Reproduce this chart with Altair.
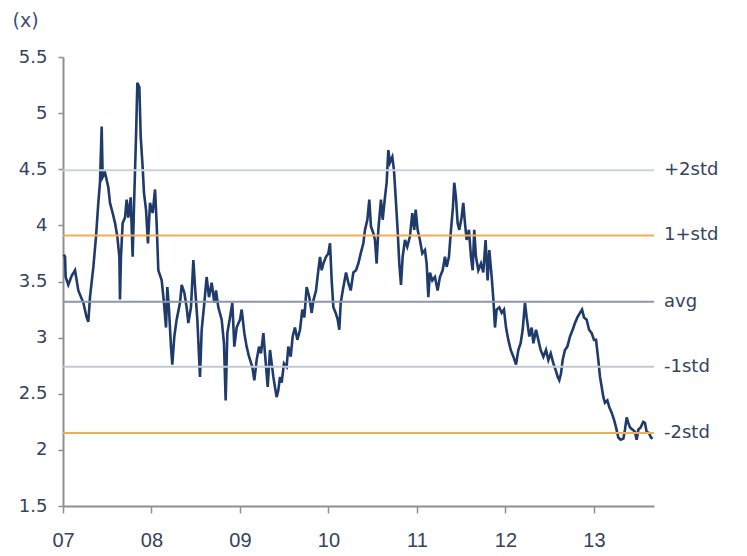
import altair as alt
import pandas as pd

# time in decimal years, multiple values
years = [
    2007.010, 2007.023, 2007.030, 2007.060, 2007.098, 2007.136, 2007.173, 2007.230, 2007.267, 2007.286,
    2007.305, 2007.343, 2007.373, 2007.399, 2007.418, 2007.437, 2007.448, 2007.475, 2007.512, 2007.531,
    2007.561, 2007.588, 2007.614, 2007.637, 2007.644, 2007.655, 2007.674, 2007.701, 2007.719, 2007.738,
    2007.765, 2007.787, 2007.802, 2007.825, 2007.840, 2007.863, 2007.878, 2007.900, 2007.915, 2007.938,
    2007.960, 2007.983, 2008.013, 2008.040, 2008.058, 2008.077, 2008.115, 2008.141, 2008.164, 2008.179,
    2008.198, 2008.220, 2008.235, 2008.258, 2008.284, 2008.322, 2008.341, 2008.371, 2008.397, 2008.416,
    2008.446, 2008.473, 2008.492, 2008.518, 2008.548, 2008.567, 2008.597, 2008.623, 2008.650, 2008.680,
    2008.710, 2008.729, 2008.755, 2008.793, 2008.819, 2008.838, 2008.857, 2008.887, 2008.913, 2008.936,
    2008.962, 2009.000, 2009.019, 2009.049, 2009.075, 2009.102, 2009.139, 2009.162, 2009.188, 2009.215,
    2009.237, 2009.264, 2009.282, 2009.313,
    2009.339, 2009.358, 2009.377, 2009.395, 2009.414, 2009.433, 2009.452, 2009.471, 2009.497, 2009.527,
    2009.546, 2009.573, 2009.595, 2009.621, 2009.648, 2009.678, 2009.704, 2009.727, 2009.753, 2009.783,
    2009.810, 2009.829, 2009.859, 2009.885, 2009.904, 2009.923, 2009.942, 2009.972, 2009.998, 2010.017,
    2010.036, 2010.055, 2010.081, 2010.104, 2010.122, 2010.138, 2010.168, 2010.198, 2010.224, 2010.251,
    2010.281, 2010.311, 2010.337, 2010.364, 2010.394, 2010.412, 2010.439, 2010.461, 2010.480, 2010.507,
    2010.525, 2010.544, 2010.563, 2010.593, 2010.612, 2010.638, 2010.657, 2010.676, 2010.694, 2010.721,
    2010.740, 2010.759, 2010.781, 2010.800, 2010.819, 2010.838, 2010.864, 2010.890, 2010.920, 2010.947,
    2010.969, 2010.985, 2011.007, 2011.033, 2011.060, 2011.090, 2011.109, 2011.128, 2011.146, 2011.173,
    2011.203, 2011.233, 2011.259, 2011.290, 2011.316, 2011.335, 2011.361, 2011.384, 2011.406, 2011.421,
    2011.440, 2011.459, 2011.478, 2011.504, 2011.523, 2011.542, 2011.561, 2011.587, 2011.610, 2011.629,
    2011.647, 2011.666, 2011.693, 2011.723, 2011.749, 2011.775, 2011.798, 2011.817,
    2011.844, 2011.863, 2011.881, 2011.900, 2011.930, 2011.957, 2011.983, 2012.006, 2012.032, 2012.059,
    2012.089, 2012.119, 2012.145, 2012.171, 2012.194, 2012.220, 2012.239, 2012.269, 2012.296, 2012.315,
    2012.345, 2012.371, 2012.397, 2012.428, 2012.458, 2012.484, 2012.511, 2012.541, 2012.567, 2012.590,
    2012.608, 2012.627, 2012.646, 2012.672, 2012.699, 2012.729, 2012.759, 2012.785, 2012.812, 2012.842,
    2012.865, 2012.887, 2012.917, 2012.944, 2012.974, 2013.000, 2013.023, 2013.049, 2013.068, 2013.087,
    2013.106, 2013.124, 2013.151, 2013.173, 2013.200, 2013.226, 2013.249, 2013.275, 2013.301, 2013.332,
    2013.350, 2013.369, 2013.388, 2013.407, 2013.437, 2013.463, 2013.482, 2013.501, 2013.527, 2013.557,
    2013.576, 2013.595, 2013.621, 2013.644, 2013.663,
]
multiple = [
    3.74, 3.72, 3.54, 3.47, 3.55, 3.60, 3.42, 3.31, 3.18, 3.14,
    3.36, 3.63, 3.90, 4.20, 4.38, 4.88, 4.43, 4.47, 4.34, 4.20,
    4.11, 4.02, 3.90, 3.72, 3.34, 3.72, 4.02, 4.07, 4.23, 4.07,
    4.25, 3.72, 4.16, 4.79, 5.27, 5.23, 4.79, 4.52, 4.29, 4.14,
    3.84, 4.20, 4.11, 4.32, 4.02, 3.60, 3.51, 3.31, 3.09, 3.45,
    3.25, 2.92, 2.76, 3.01, 3.16, 3.31, 3.47, 3.40, 3.27, 3.13,
    3.27, 3.69, 3.45, 3.16, 2.65, 3.07, 3.31, 3.54, 3.36, 3.49,
    3.31, 3.42, 3.27, 3.16, 2.95, 2.44, 3.04, 3.18, 3.31, 2.92,
    3.09, 3.16, 3.25, 3.04, 2.92, 2.83, 2.74, 2.62, 2.80, 2.92,
    2.86, 3.04, 2.86, 2.56,
    2.89, 2.77, 2.65, 2.56, 2.47, 2.53, 2.65, 2.60, 2.77, 2.74,
    2.92, 2.83, 3.01, 3.09, 2.98, 3.07, 3.25, 3.18, 3.45, 3.36,
    3.22, 3.33, 3.42, 3.60, 3.72, 3.60, 3.66, 3.72, 3.75, 3.84,
    3.51, 3.27, 3.22, 3.16, 3.07, 3.31, 3.45, 3.58, 3.49, 3.42,
    3.58, 3.60, 3.66, 3.75, 3.84, 3.96, 4.05, 4.23, 3.99, 3.93,
    3.87, 3.66, 3.96, 4.23, 4.05, 4.25, 4.38, 4.67, 4.56, 4.61,
    4.49, 4.25, 3.96, 3.66, 3.47, 3.72, 3.87, 3.81, 3.90, 4.11,
    3.96, 4.14, 3.96, 3.87, 3.75, 3.78, 3.66, 3.36, 3.58, 3.51,
    3.54, 3.42, 3.54, 3.60, 3.72, 3.63, 3.72, 3.96, 4.16, 4.38,
    4.25, 4.02, 3.96, 4.07, 4.20, 4.02, 3.87, 3.96, 3.72, 3.60,
    3.96, 3.72, 3.60, 3.66, 3.58, 3.87, 3.51, 3.78,
    3.54, 3.34, 3.09, 3.25, 3.27, 3.22, 3.25, 3.09, 2.98, 2.89,
    2.83, 2.76, 2.89, 2.95, 3.07, 3.31, 3.18, 3.01, 3.09, 2.95,
    3.07, 2.98, 2.89, 2.83, 2.89, 2.80, 2.86, 2.77, 2.71, 2.65,
    2.62, 2.68, 2.80, 2.89, 2.92, 3.01, 3.07, 3.13, 3.18, 3.22,
    3.25, 3.18, 3.16, 3.07, 3.04, 2.98, 2.98, 2.80, 2.65, 2.56,
    2.47, 2.42, 2.44, 2.38, 2.33, 2.27, 2.20, 2.11, 2.09, 2.10,
    2.18, 2.29, 2.24, 2.20, 2.18, 2.16, 2.09, 2.18, 2.20, 2.25,
    2.24, 2.16, 2.15, 2.11, 2.10,
]

band_names = ["+2std", "1+std", "avg", "-1std", "-2std"]
band_values = [4.49, 3.91, 3.32, 2.74, 2.15]
band_colors = ["#cdd2da", "#f5ab4f", "#8d97a8", "#c3c9d3", "#f5ab4f"]

year_ticks = [2007, 2008, 2009, 2010, 2011, 2012, 2013]
y_ticks = [1.5, 2, 2.5, 3, 3.5, 4, 4.5, 5, 5.5]

series = pd.DataFrame({"t": years, "v": multiple})
bands = pd.DataFrame({"name": band_names, "v": band_values})

xscale = alt.Scale(domain=[2007, 2013.678], nice=False, zero=False)
yscale = alt.Scale(domain=[1.5, 5.5], nice=False, zero=False)

label_color = "#34435f"

line = alt.Chart(series).mark_line(color="#1f3b6b", strokeWidth=2.6).encode(
    x=alt.X("t:Q", scale=xscale, axis=alt.Axis(
        values=year_ticks, title=None, grid=False, labelFlush=False,
        labelExpr="substring(toString(datum.value), 2, 4)",
        labelFont="Liberation Sans", labelFontSize=20, labelColor=label_color,
        labelPadding=17, tickSize=7)),
    y=alt.Y("v:Q", scale=yscale, axis=alt.Axis(
        values=y_ticks, format=".1~f", grid=False,
        title="(x)", titleAngle=0, titleAlign="left", titleBaseline="top",
        titleX=-51, titleY=-46, titleFont="DejaVu Sans", titleFontSize=19,
        titleFontWeight="normal", titleColor="#3b4f78",
        labelFont="DejaVu Sans", labelFontSize=18, labelColor=label_color,
        labelPadding=11, tickSize=5)),
)

rules = alt.Chart(bands).mark_rule(strokeWidth=2).encode(
    y=alt.Y("v:Q", scale=yscale),
    color=alt.Color("name:N", scale=alt.Scale(domain=band_names, range=band_colors), legend=None),
)

labels = alt.Chart(bands).mark_text(
    align="left", baseline="middle", font="DejaVu Sans", fontSize=18, color=label_color
).encode(
    y=alt.Y("v:Q", scale=yscale),
    x=alt.value(601),
    text="name:N",
)

chart = alt.layer(line, rules, labels).properties(
    width=591, height=449,
    autosize=alt.AutoSizeParams(type="none"),
    padding={"left": 63, "top": 57, "right": 93, "bottom": 50},
    background="white",
).configure_view(stroke=None).configure_axis(
    domainColor="#8f8f8f", domainWidth=2, tickColor="#8f8f8f", tickWidth=1.5,
)

chart.save("out.html", embed_options={"renderer": "svg", "actions": False})
